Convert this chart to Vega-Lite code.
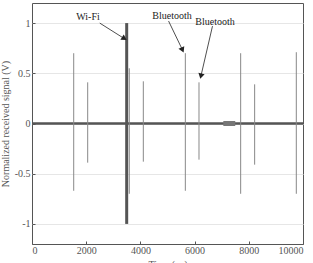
{
  "$schema": "https://vega.github.io/schema/vega-lite/v6.json",
  "autosize": "none",
  "width": 271,
  "height": 241,
  "padding": {"left": 32, "top": 3, "right": 10, "bottom": 19},
  "background": "white",
  "config": {
    "view": {"stroke": "#555", "strokeWidth": 1},
    "font": "Liberation Serif",
    "axis": {"labelFont": "Liberation Serif", "titleFont": "Liberation Serif", "labelColor": "#555", "titleColor": "#555", "labelFontSize": 10, "titleFontSize": 10, "titleFontWeight": "normal", "domain": false, "tickColor": "#555", "tickSize": -3, "gridColor": "#e6e6e6"}
  },
  "datasets": {
    "spikes": [
      {"t": 1539, "hi": 0.70, "lo": -0.67},
      {"t": 2055, "hi": 0.41, "lo": -0.39},
      {"t": 3590, "hi": 0.55, "lo": -0.70},
      {"t": 4108, "hi": 0.42, "lo": -0.38},
      {"t": 5658, "hi": 0.70, "lo": -0.67},
      {"t": 6162, "hi": 0.41, "lo": -0.36},
      {"t": 7700, "hi": 0.70, "lo": -0.70},
      {"t": 8216, "hi": 0.39, "lo": -0.41},
      {"t": 9753, "hi": 0.71, "lo": -0.70}
    ],
    "wifi": [{"t": 3494, "hi": 1.0, "lo": -1.0}],
    "band": [{"a": 0, "b": 10000, "lo": -0.012, "hi": 0.012}],
    "blob": [{"a": 7060, "b": 7500, "lo": -0.025, "hi": 0.025}],
    "labels": [
      {"t": 2066, "v": 1.06, "txt": "Wi-Fi"},
      {"t": 5166, "v": 1.07, "txt": "Bluetooth"},
      {"t": 6753, "v": 1.01, "txt": "Bluetooth"}
    ],
    "arrows": [
      {"t": 2500, "v": 1.0, "t2": 3380, "v2": 0.85},
      {"t": 5040, "v": 1.02, "t2": 5540, "v2": 0.74},
      {"t": 6660, "v": 0.97, "t2": 6240, "v2": 0.48}
    ]
  },
  "encoding": {
    "x": {"field": "t", "type": "quantitative", "scale": {"domain": [0, 10000], "nice": false}, "axis": {"title": "Time (μs)", "values": [0, 2000, 4000, 6000, 8000, 10000], "grid": false, "labelPadding": 4, "format": "d"}},
    "y": {"field": "hi", "type": "quantitative", "scale": {"domain": [-1.2, 1.2], "nice": false}, "axis": {"title": "Normalized received signal (V)", "values": [-1, -0.5, 0, 0.5, 1], "labelExpr": "'' + datum.value", "grid": true, "labelPadding": 5, "titlePadding": 4}}
  },
  "layer": [
    {"data": {"name": "band"}, "mark": {"type": "rect", "color": "#555"}, "encoding": {"x": {"field": "a", "type": "quantitative"}, "x2": {"field": "b"}, "y": {"field": "lo", "type": "quantitative"}, "y2": {"field": "hi"}}},
    {"data": {"name": "blob"}, "mark": {"type": "rect", "color": "#777"}, "encoding": {"x": {"field": "a", "type": "quantitative"}, "x2": {"field": "b"}, "y": {"field": "lo", "type": "quantitative"}, "y2": {"field": "hi"}}},
    {"data": {"name": "spikes"}, "mark": {"type": "rule", "color": "#888", "strokeWidth": 1}, "encoding": {"y2": {"field": "lo"}}},
    {"data": {"name": "wifi"}, "mark": {"type": "rule", "color": "#555", "strokeWidth": 3}, "encoding": {"y2": {"field": "lo"}}},
    {"data": {"name": "arrows"}, "mark": {"type": "rule", "color": "#222", "strokeWidth": 0.8}, "encoding": {"y": {"field": "v", "type": "quantitative"}, "x2": {"field": "t2"}, "y2": {"field": "v2"}}},
    {"data": {"name": "arrows"}, "transform": [{"filter": "datum.t == 2500"}], "mark": {"type": "point", "shape": "triangle", "filled": true, "color": "#222", "size": 40, "angle": 122, "opacity": 1}, "encoding": {"x": {"field": "t2", "type": "quantitative"}, "y": {"field": "v2", "type": "quantitative"}}},
    {"data": {"name": "arrows"}, "transform": [{"filter": "datum.t == 5040"}], "mark": {"type": "point", "shape": "triangle", "filled": true, "color": "#222", "size": 40, "angle": 156, "opacity": 1}, "encoding": {"x": {"field": "t2", "type": "quantitative"}, "y": {"field": "v2", "type": "quantitative"}}},
    {"data": {"name": "arrows"}, "transform": [{"filter": "datum.t == 6660"}], "mark": {"type": "point", "shape": "triangle", "filled": true, "color": "#222", "size": 40, "angle": 193, "opacity": 1}, "encoding": {"x": {"field": "t2", "type": "quantitative"}, "y": {"field": "v2", "type": "quantitative"}}},
    {"data": {"name": "labels"}, "mark": {"type": "text", "font": "Liberation Serif", "fontSize": 10, "color": "#222"}, "encoding": {"y": {"field": "v", "type": "quantitative"}, "text": {"field": "txt"}}}
  ]
}
